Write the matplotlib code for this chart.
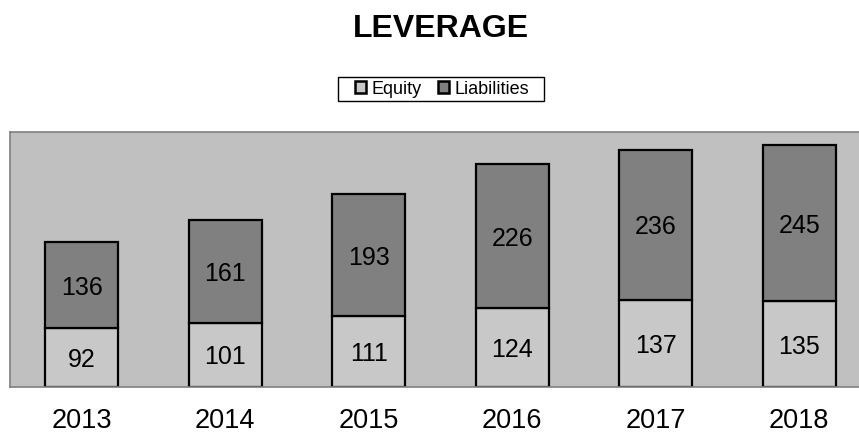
import numpy as np
import matplotlib
import matplotlib.pyplot as plt
from matplotlib.patches import Patch, Rectangle

matplotlib.use("Agg")

plt.rcParams["font.family"] = ["Liberation Sans", "DejaVu Sans"]

years = ["2013", "2014", "2015", "2016", "2017", "2018"]
equity = [92, 101, 111, 124, 137, 135]
liabilities = [136, 161, 193, 226, 236, 245]

fig = plt.figure(figsize=(8.59, 4.33), dpi=100)
W, H = 859, 433
# plot area runs slightly past the right edge of the picture
ax = fig.add_axes([10 / W, 1 - 387 / H, 861 / W, 255 / H])
ax.set_facecolor("#C0C0C0")

x = np.arange(len(years))
width = 0.51
eq_color = "#C8C8C8"
li_color = "#808080"

ax.bar(x, equity, width, color=eq_color, edgecolor="black", linewidth=1.6)
ax.bar(x, liabilities, width, bottom=equity, color=li_color,
       edgecolor="black", linewidth=1.6)

for i in range(len(years)):
    ax.text(x[i], equity[i] / 2, str(equity[i]), ha="center",
            va="center_baseline", fontsize=18)
    ax.text(x[i], equity[i] + liabilities[i] / 2, str(liabilities[i]),
            ha="center", va="center_baseline", fontsize=18)

ax.set_xlim(-0.5, 5.5)
ax.set_ylim(0, 401)
ax.set_xticks(x)
ax.set_xticklabels(years, fontsize=19.5)
ax.tick_params(axis="x", length=0, pad=15)
ax.set_yticks([])
for s in ax.spines.values():
    s.set_color("#808080")
    s.set_linewidth(1.2)

fig.text(441 / W, 1 - 29 / H, "LEVERAGE", ha="center", va="center",
         fontsize=23, fontweight="bold")

handles = [Patch(facecolor=eq_color, edgecolor="black", linewidth=1.8),
           Patch(facecolor=li_color, edgecolor="black", linewidth=1.8)]
leg = fig.legend(handles, ["Equity", "Liabilities"], loc="center",
                 bbox_to_anchor=(442 / W, 1 - 89 / H), ncol=2, fontsize=13,
                 frameon=False, handlelength=0.62, handleheight=0.62,
                 handletextpad=0.3, columnspacing=0.9, borderpad=0.0)

# legend frame drawn by hand: wider side padding than top/bottom
fig.add_artist(Rectangle((338 / W, 1 - 101 / H), 206 / W, 24 / H,
                         transform=fig.transFigure, facecolor="none",
                         edgecolor="black", linewidth=1.0))

fig.savefig("out.png", dpi=100)
